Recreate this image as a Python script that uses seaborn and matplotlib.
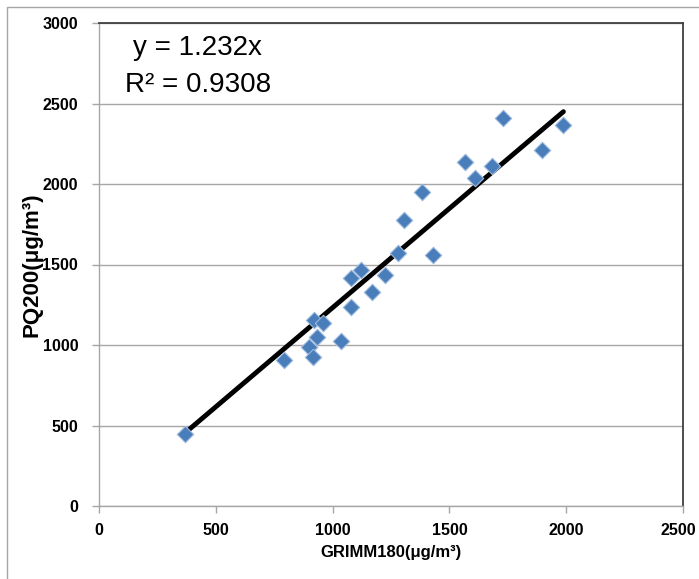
import matplotlib
matplotlib.use("Agg")
import matplotlib.pyplot as plt
import matplotlib.transforms as mtransforms
import seaborn as sns
import numpy as np
import pandas as pd
from matplotlib.patches import Rectangle

# data
grimm = [368, 793, 898, 915, 932, 922, 960, 1037, 1080, 1077, 1123, 1170, 1226,
         1281, 1431, 1306, 1381, 1568, 1610, 1682, 1728, 1896, 1988]
pq200 = [447, 907, 986, 927, 1052, 1155, 1139, 1027, 1238, 1418, 1464, 1329, 1437,
         1569, 1559, 1776, 1948, 2135, 2039, 2112, 2408, 2211, 2366]
slope = 1.232
r2 = 0.9308
x_ticks = [0, 500, 1000, 1500, 2000, 2500]
y_ticks = [0, 500, 1000, 1500, 2000, 2500, 3000]

sns.set_theme(style="white")
plt.rcParams['font.family'] = ['Liberation Sans', 'DejaVu Sans']

fig = plt.figure(figsize=(6.99, 5.79), dpi=100)
ax = fig.add_axes([99/699, 1-506/579, (683-99)/699, (506-23)/579])

df = pd.DataFrame({"GRIMM180": grimm, "PQ200": pq200})
xs = np.array([min(grimm), max(grimm)])
line_df = pd.DataFrame({"x": xs, "y": slope*xs})

sns.lineplot(data=line_df, x="x", y="y", color="black", linewidth=3.5, ax=ax, zorder=3)
sns.scatterplot(data=df, x="GRIMM180", y="PQ200", marker="D", s=70,
                color="#4A7EBB", edgecolor="#9DB9DE", linewidth=0.8, ax=ax, zorder=4)

ax.set_xlim(0, 2500)
ax.set_ylim(0, 3000)
ax.set_xticks(x_ticks)
ax.set_yticks(y_ticks)
ax.yaxis.grid(True, color="#A6A6A6", linewidth=1)
ax.xaxis.grid(False)
ax.set_axisbelow(True)

for s in ["left", "bottom"]:
    ax.spines[s].set_color("#A6A6A6")
    ax.spines[s].set_linewidth(1)
for s in ["top", "right"]:
    ax.spines[s].set_color("#404040")
    ax.spines[s].set_linewidth(1.3)
    ax.spines[s].set_visible(True)

ax.tick_params(axis="both", which="major", direction="out", length=5, width=1,
               color="#A6A6A6", labelsize=11.5)
ax.tick_params(axis="x", bottom=True, pad=7)
ax.tick_params(axis="y", left=True, pad=10)
for lab in ax.get_xticklabels() + ax.get_yticklabels():
    lab.set_fontweight("bold")
    lab.set_color("black")
# nudge the last x tick label so it stays inside the figure, as in the reference
last = ax.get_xticklabels()[-1]
last.set_transform(last.get_transform() + mtransforms.ScaledTranslation(-5/100, 0, fig.dpi_scale_trans))

ax.set_xlabel("GRIMM180(μg/m³)", fontsize=12, fontweight="bold", color="black", labelpad=5)
ax.set_ylabel("PQ200(μg/m³)", fontsize=16, fontweight="bold", color="black", labelpad=0)

ax.text(0.058, 0.948, f"y = {slope}x", transform=ax.transAxes, fontsize=20,
        ha="left", va="center", color="black")
ax.text(0.044, 0.872, f"R² = {r2}", transform=ax.transAxes, fontsize=20,
        ha="left", va="center", color="black")

fig.patches.append(Rectangle((7/699, -0.1), 1.2, 1-7/579+0.1, transform=fig.transFigure,
                             fill=False, edgecolor="#A6A6A6", linewidth=1))

fig.savefig("out.png", dpi=100)
